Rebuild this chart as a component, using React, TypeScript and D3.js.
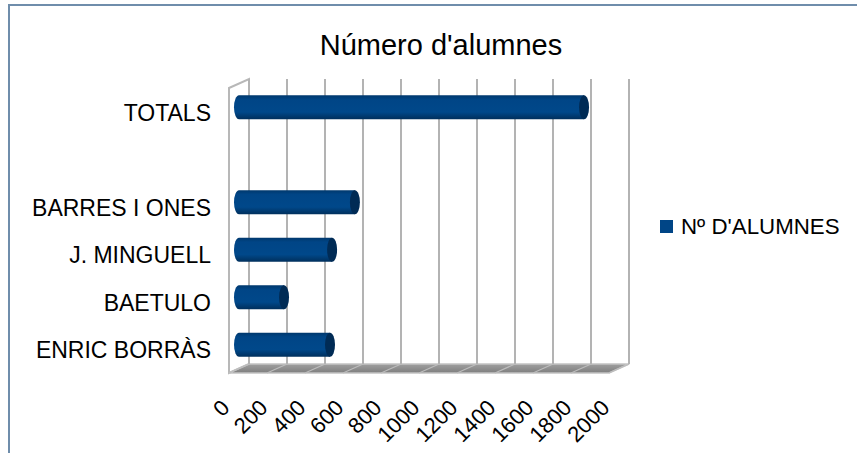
import React from "react";
import * as d3 from "d3";

const categories = ["TOTALS", "", "BARRES I ONES", "J. MINGUELL", "BAETULO", "ENRIC BORRÀS"];
const values: (number | null)[] = [1816, null, 610, 490, 237, 479];
const tickValues = [0, 200, 400, 600, 800, 1000, 1200, 1400, 1600, 1800, 2000];
const seriesName = "Nº D'ALUMNES";
const title = "Número d'alumnes";

const W = 857;
const H = 453;
const FONT = "'Liberation Sans', Arial, sans-serif";

export default function App() {
  const x = d3.scaleLinear().domain([0, 2000]).range([249, 629]);
  const y = d3
    .scaleBand<number>()
    .domain(categories.map((_, i) => i))
    .range([79, 364]);
  const dx = -20;
  const dy = 9;
  const yTop = y.range()[0];
  const yBot = y.range()[1];
  const barH = 24;
  const capRx = 5;

  return (
    <svg
      width={W}
      height={H}
      style={{ position: "absolute", left: 0, top: 0, background: "#fff" }}
      fontFamily={FONT}
    >
      <defs>
        <linearGradient id="barGrad" x1="0" y1="0" x2="0" y2="1">
          <stop offset="0%" stopColor="#00386d" />
          <stop offset="18%" stopColor="#004586" />
          <stop offset="70%" stopColor="#00488a" />
          <stop offset="100%" stopColor="#002f5c" />
        </linearGradient>
        <linearGradient id="floorGrad" x1="0" y1="0" x2="0" y2="1">
          <stop offset="0%" stopColor="#a0a0a0" />
          <stop offset="100%" stopColor="#7e7e7e" />
        </linearGradient>
      </defs>
      <rect x={0} y={0} width={W} height={H} fill="#fff" />
      {/* frame */}
      <line x1={9} y1={5} x2={W} y2={5} stroke="#6f8dab" strokeWidth={2} />
      <line x1={9} y1={4} x2={9} y2={H} stroke="#6f8dab" strokeWidth={2} />

      {/* title */}
      <text x={441} y={54.5} fontSize={29} textAnchor="middle" fill="#000">
        {title}
      </text>

      {/* left wall */}
      <polygon
        points={`${x(0) + dx},${yTop + dy} ${x(0)},${yTop} ${x(0)},${yBot} ${x(0) + dx},${yBot + dy}`}
        fill="#fff"
        stroke="#b8b8b8"
        strokeWidth={2}
      />
      {/* floor */}
      <polygon
        points={`${x(0)},${yBot} ${x(2000)},${yBot} ${x(2000) + dx},${yBot + dy} ${x(0) + dx},${yBot + dy}`}
        fill="url(#floorGrad)"
        stroke="#c4c4c4"
        strokeWidth={1.5}
      />
      {tickValues.map((t) => (
        <line
          key={"f" + t}
          x1={x(t)}
          y1={yBot}
          x2={x(t) + dx}
          y2={yBot + dy}
          stroke="#bdbdbd"
          strokeWidth={1.2}
        />
      ))}
      {/* back wall gridlines */}
      {tickValues.map((t) => (
        <line
          key={"g" + t}
          x1={x(t)}
          y1={yTop}
          x2={x(t)}
          y2={yBot}
          stroke="#b3b3b3"
          strokeWidth={2}
        />
      ))}

      {/* bars */}
      {values.map((v, i) => {
        if (v == null) return null;
        const cy = (y(i) as number) + y.bandwidth() / 2 + dy / 2;
        const x0 = x(0) + dx / 2;
        const x1 = x(v) + dx / 2;
        const top = cy - barH / 2;
        const bot = cy + barH / 2;
        const path = `M${x1},${top} L${x0},${top} A${capRx},${barH / 2} 0 0 0 ${x0},${bot} L${x1},${bot} Z`;
        return (
          <g key={"b" + i}>
            <path d={path} fill="url(#barGrad)" />
            <ellipse cx={x1} cy={cy} rx={capRx} ry={barH / 2} fill="#002b55" />
          </g>
        );
      })}

      {/* category labels */}
      {categories.map((c, i) => (
        <text
          key={"c" + i}
          x={211}
          y={(y(i) as number) + y.bandwidth() / 2 + 18}
          fontSize={23}
          textAnchor="end"
          fill="#000"
        >
          {c}
        </text>
      ))}

      {/* x tick labels */}
      {tickValues.map((t) => {
        const ax = x(t) + dx + 2;
        const ay = 409;
        return (
          <text
            key={"t" + t}
            x={ax}
            y={ay}
            fontSize={22}
            textAnchor="end"
            transform={`rotate(-45 ${ax} ${ay})`}
            fill="#000"
          >
            {t}
          </text>
        );
      })}

      {/* legend */}
      <rect x={660} y={220} width={13} height={13} fill="#004586" />
      <text x={681} y={233.5} fontSize={22.3} fill="#000">
        {seriesName}
      </text>
    </svg>
  );
}
